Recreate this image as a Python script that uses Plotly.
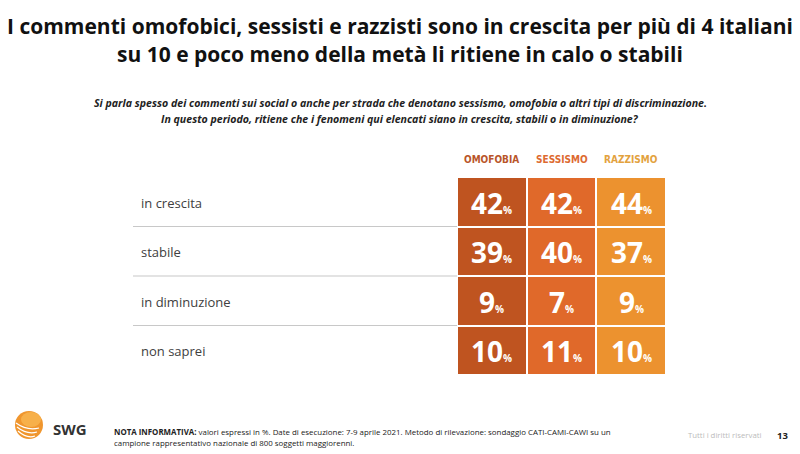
import plotly.graph_objects as go

# The page adds an 8px body margin; lay the figure out in slide pixels and shift.
OFF = 8
W, H = 800 - OFF, 454 - OFF

# ---- data ----
categories = ["in crescita", "stabile", "in diminuzione", "non saprei"]
series = ["OMOFOBIA", "SESSISMO", "RAZZISMO"]
omofobia = [42, 39, 9, 10]
sessismo = [42, 40, 7, 11]
razzismo = [44, 37, 9, 10]
values = [omofobia, sessismo, razzismo]

col_colors = ["#BF5420", "#E0692A", "#EC922F"]
head_colors = ["#B9552A", "#DD6A30", "#E3A23E"]

FONT = "Open Sans"


def px_x(p):
    return (p - OFF) / W


def px_y(p):
    return 1 - (p - OFF) / H


nrow, ncol = len(categories), len(series)
z = [[j for j in range(ncol)] for _ in range(nrow)]
hover = [[f"{series[j]} – {categories[i]}: {values[j][i]}%" for j in range(ncol)] for i in range(nrow)]

fig = go.Figure()
fig.add_trace(go.Heatmap(
    z=z, x=list(range(ncol)), y=list(range(nrow)),
    colorscale=[[0, col_colors[0]], [0.333, col_colors[0]], [0.334, col_colors[1]],
                [0.666, col_colors[1]], [0.667, col_colors[2]], [1, col_colors[2]]],
    zmin=0, zmax=2, showscale=False, xgap=2, ygap=2,
    text=hover, hoverinfo="text",
))

ann = []


def text_at(x, y, text, size, color="#222222", family=FONT, xanchor="center", align="center"):
    ann.append(dict(x=px_x(x), y=px_y(y), xref="paper", yref="paper", showarrow=False,
                    xanchor=xanchor, yanchor="middle", align=align, text=text,
                    font=dict(family=family, size=size, color=color)))


# cell numbers
for j in range(ncol):
    for i in range(nrow):
        ann.append(dict(
            x=j, y=i, xref="x", yref="y", showarrow=False, xanchor="center", yanchor="middle",
            text=f"<b>{values[j][i]}</b><span style='font-size:10px'><b>%</b></span>",
            font=dict(family=FONT, size=28, color="white"), yshift=-1,
        ))
# headers
for j in range(ncol):
    ann.append(dict(
        x=j, y=px_y(159), xref="x", yref="paper", showarrow=False, xanchor="center", yanchor="middle",
        text=f"<b>{series[j]}</b>",
        font=dict(family="DejaVu Sans Condensed", size=10, color=head_colors[j]),
    ))
# row labels
for i in range(nrow):
    ann.append(dict(
        x=px_x(139), y=i, xref="paper", yref="y", showarrow=False, xanchor="left", yanchor="middle",
        text=categories[i], font=dict(family=FONT, size=13, color="#404040"), yshift=-1,
    ))

# title
text_at(400, 26, "<b>I commenti omofobici, sessisti e razzisti sono in crescita per più di 4 italiani</b>", 21, "#111111")
text_at(400, 54, "<b>su 10 e poco meno della metà li ritiene in calo o stabili</b>", 21, "#111111")
# subtitle
text_at(400, 103, "<b><i>Si parla spesso dei commenti sui social o anche per strada che denotano sessismo, omofobia o altri tipi di discriminazione.</i></b>", 10.6)
text_at(400, 119, "<b><i>In questo periodo, ritiene che i fenomeni qui elencati siano in crescita, stabili o in diminuzione?</i></b>", 10.6)
# footer
text_at(51, 429, "<b>SWG</b>", 15, "#333333", xanchor="left")
text_at(112, 432, "<b>NOTA INFORMATIVA:</b> valori espressi in %. Date di esecuzione: 7-9 aprile 2021. Metodo di rilevazione: sondaggio CATI-CAMI-CAWI su un", 7.9, xanchor="left")
text_at(112, 443, "campione rappresentativo nazionale di 800 soggetti maggiorenni.", 7.9, xanchor="left")
text_at(764, 435, "Tutti i diritti riservati", 7.8, "#BBBBBB", xanchor="right")
text_at(775, 435, "<b>13</b>", 9.5, "#222222", xanchor="left")

shapes = []
# separator lines
for i in range(nrow - 1):
    shapes.append(dict(type="line", xref="paper", yref="y", x0=px_x(133), x1=px_x(457),
                       y0=i + 0.5, y1=i + 0.5, line=dict(color="#C8C8C8", width=1.2)))
# logo sphere
cx, cy, r = 29, 425, 14
shapes.append(dict(type="circle", xref="paper", yref="paper",
                   x0=px_x(cx - r), x1=px_x(cx + r), y0=px_y(cy + r), y1=px_y(cy - r),
                   fillcolor="#F0962E", line=dict(width=0)))
shapes.append(dict(type="circle", xref="paper", yref="paper",
                   x0=px_x(cx - r + 6), x1=px_x(cx + r - 2), y0=px_y(cy + 2), y1=px_y(cy - r + 1),
                   fillcolor="#F7B04A", line=dict(width=0)))
for k, dy in enumerate([2, 6, 10]):
    shapes.append(dict(type="path", xref="paper", yref="paper",
                       path=f"M {px_x(cx - r + 1 + k)} {px_y(cy + dy - 4)} Q {px_x(cx - 2)} {px_y(cy + dy + 4)} {px_x(cx + r - 4 - 2*k)} {px_y(cy + dy + 1)}",
                       line=dict(color="white", width=1.2)))

fig.update_layout(
    width=W, height=H, margin=dict(l=0, r=0, t=0, b=0),
    paper_bgcolor="white", plot_bgcolor="white",
    xaxis=dict(domain=[px_x(457), px_x(666)], range=[-0.5, 2.5], visible=False, fixedrange=True),
    yaxis=dict(domain=[px_y(375), px_y(177)], range=[3.5, -0.5], visible=False, fixedrange=True),
    annotations=ann, shapes=shapes, showlegend=False,
)

fig.write_html("out.html")
